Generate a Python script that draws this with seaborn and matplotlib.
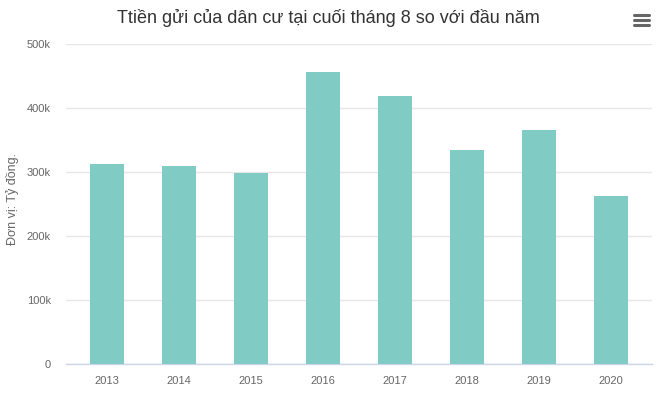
import matplotlib
matplotlib.use("Agg")
import matplotlib.pyplot as plt
import seaborn as sns
import pandas as pd
from matplotlib.lines import Line2D

# === DONNÉES ===
years = ["2013", "2014", "2015", "2016", "2017", "2018", "2019", "2020"]
deposits = [313000, 310000, 299000, 457000, 418000, 335000, 366000, 263000]
yticks = [0, 100000, 200000, 300000, 400000, 500000]
ytick_labels = ["0", "100k", "200k", "300k", "400k", "500k"]

TITLE = "Ttiền gửi của dân cư tại cuối tháng 8 so với đầu năm"
YLABEL = "Đơn vị: Tỷ đồng."
BAR_COLOR = "#80cbc4"

df = pd.DataFrame({"year": years, "value": deposits})

sns.set_theme(style="white")
plt.rcParams["font.family"] = ["Liberation Sans", "DejaVu Sans"]

fig = plt.figure(figsize=(6.57, 3.98), dpi=100)
ax = fig.add_axes([66 / 657, 34 / 398, 586 / 657, 320 / 398])

sns.barplot(data=df, x="year", y="value", color=BAR_COLOR, width=0.47,
            saturation=1, linewidth=0, ax=ax, zorder=3)

ax.set_ylim(0, 500000)
ax.set_xlim(-0.57, 7.57)
ax.set_yticks(yticks)
ax.set_yticklabels(ytick_labels)
ax.yaxis.grid(True, color="#e6e6e6", linewidth=1, zorder=0)
ax.set_axisbelow(True)

for side in ["top", "right", "left"]:
    ax.spines[side].set_visible(False)
ax.spines["bottom"].set_color("#ccd6eb")
ax.spines["bottom"].set_linewidth(1)

# ticks façon highcharts
ax.tick_params(axis="x", colors="#ccd6eb", length=7, width=1, labelcolor="#666666",
               labelsize=8, pad=2, direction="out")
ax.tick_params(axis="y", length=0, labelcolor="#666666", labelsize=8, pad=11)

ax.set_xlabel("")
ax.set_ylabel(YLABEL, color="#666666", fontsize=9)
ax.yaxis.set_label_coords(-47 / 586, 0.515)

fig.text(0.5, 1 - 18 / 398, TITLE, ha="center", va="center", fontsize=13, color="#333333")

# icône menu (trois barres)
for yy in [15, 20, 25]:
    fig.add_artist(Line2D([634 / 657, 649 / 657], [1 - yy / 398, 1 - yy / 398],
                          color="#666666", linewidth=2.2, solid_capstyle="round"))

fig.savefig("out.png", dpi=100, facecolor="white")
